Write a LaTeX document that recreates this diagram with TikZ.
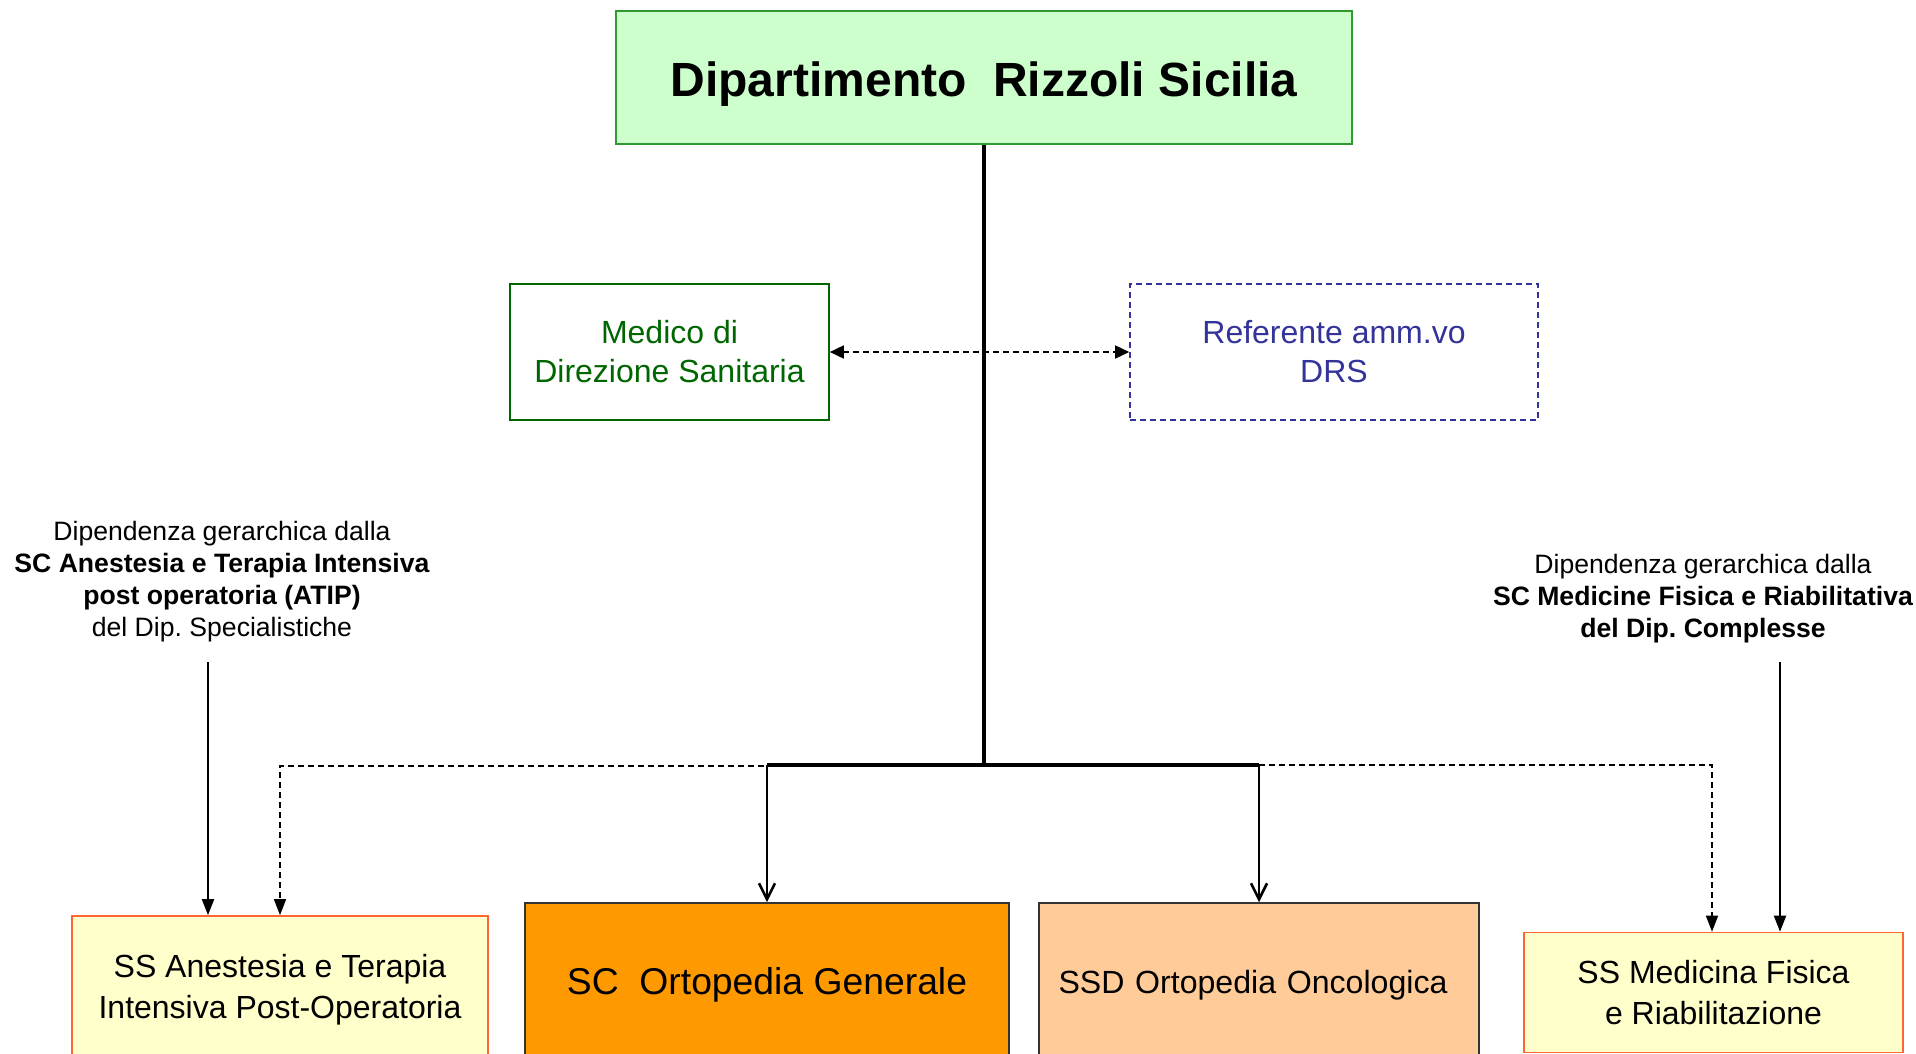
\documentclass[tikz,border=0pt]{standalone}
\usepackage{fontspec}
\setmainfont{Liberation Sans}
\usetikzlibrary{arrows.meta}
\frenchspacing
\definecolor{topfill}{HTML}{CCFFCC}
\definecolor{topdraw}{HTML}{339933}
\definecolor{medgreen}{HTML}{006600}
\definecolor{refblue}{HTML}{333399}
\definecolor{ylfill}{HTML}{FFFFCC}
\definecolor{ylborder}{HTML}{FF6633}
\definecolor{orfill}{HTML}{FF9900}
\definecolor{ssdfill}{HTML}{FFCC99}
\definecolor{boxdark}{HTML}{333333}
\tikzset{
  box/.style={rectangle, inner sep=0pt, align=center, line width=1.6pt},
  ann/.style={inner sep=0pt, align=center, font=\fontsize{26.6}{32}\selectfont},
  tri/.style={-{Triangle[length=16pt,width=12pt]}},
  barb/.style={-{Straight Barb[length=16pt,width=16pt,line width=2.6pt]}},
  dsh/.style={line width=1.6pt, dash pattern=on 6pt off 4pt},
}
\begin{document}
\begin{tikzpicture}[x=1pt,y=-1pt]
\fill[white] (0,0) rectangle (1916,1053);
\useasboundingbox (0,0) rectangle (1916,1053);

% nodes
\node[box, fill=topfill, draw=topdraw, minimum width=736pt, minimum height=133pt,
  text height=47pt, text depth=10pt,
  font=\fontsize{48}{56}\selectfont\bfseries] (top) at (984,77.5) {Dipartimento\ \ Rizzoli Sicilia};
\node[box, draw=medgreen, text=medgreen, minimum width=319pt, minimum height=136pt,
  font=\fontsize{32}{39}\selectfont] (med) at (669.5,352) {Medico di\\Direzione Sanitaria};
\node[box, draw=refblue, text=refblue, dsh, minimum width=408pt, minimum height=136pt,
  font=\fontsize{32}{39}\selectfont] (ref) at (1334,352) {Referente amm.vo\\DRS};

\node[ann] (annL) at (222,582) {Dipendenza gerarchica dalla\\\textbf{SC Anestesia e Terapia Intensiva}\\\textbf{post operatoria (ATIP)}\\del Dip. Specialistiche};
\node[ann] (annR) at (1703,599) {Dipendenza gerarchica dalla\\\textbf{SC Medicine Fisica e Riabilitativa}\\\textbf{del Dip. Complesse}};

\node[box, fill=ylfill, draw=ylborder, minimum width=416pt, minimum height=147pt,
  font=\fontsize{32}{41}\selectfont] (anest) at (280,989.5) {SS Anestesia e Terapia\\Intensiva Post-Operatoria};
\node[box, fill=orfill, draw=boxdark, minimum width=484pt, minimum height=164pt,
  font=\fontsize{37.3}{44}\selectfont] (orto) at (767,985) {SC\ \ Ortopedia Generale};
\node[box, fill=ssdfill, draw=boxdark, minimum width=440pt, minimum height=164pt,
  text width=401pt, inner xsep=19.5pt, align=left,
  font=\fontsize{32.1}{40}\selectfont] (ssd) at (1259,985) {SSD Ortopedia Oncologica};
\node[box, fill=ylfill, draw=ylborder, minimum width=379pt, minimum height=120pt,
  font=\fontsize{32}{41}\selectfont] (medfis) at (1713.5,992.5) {SS Medicina Fisica\\e Riabilitazione};

% coordinates
\coordinate (hub) at (984,765);
\coordinate (jl) at (767,765);
\coordinate (jr) at (1259,765);
\coordinate (dl) at (280,766);
\coordinate (dr) at (1712,765);
\coordinate (aL) at (208,662);
\coordinate (aR) at (1780,662);

% trunk
\draw[line width=3.2pt] (top.south) -- (hub);
\draw[line width=3.2pt] (jl) -- (jr);

% dashed double arrow
\draw[dsh, {Triangle[length=14pt,width=13pt]}-{Triangle[length=14pt,width=13pt]}] (med.east) -- (ref.west);

% solid arrows to SC and SSD
\draw[line width=2.4pt, barb] (jl) -- (orto.north);
\draw[line width=2.4pt, barb] (jr) -- (ssd.north);

% dashed links to SS boxes
\draw[dsh, tri] (hub |- dl) -- (dl) -- (anest.north -| dl);
\draw[dsh, tri] (jr) -- (dr) -- (medfis.north -| dr);

% hierarchical dependency arrows
\draw[line width=1.8pt, tri] (aL) -- (anest.north -| aL);
\draw[line width=1.8pt, tri] (aR) -- (medfis.north -| aR);
\end{tikzpicture}
\end{document}
